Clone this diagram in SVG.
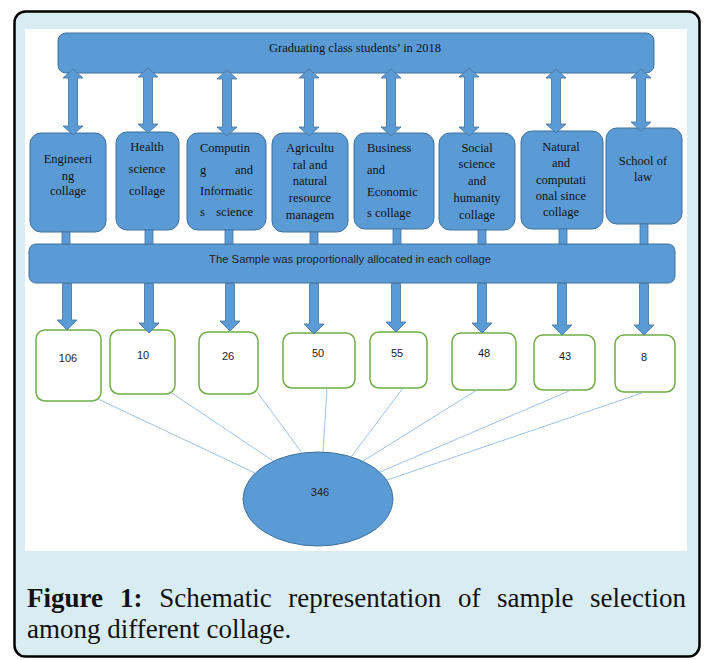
<svg xmlns="http://www.w3.org/2000/svg" width="704" height="660" viewBox="0 0 704 660">
<style>
.blue{fill:#5B9BD5;stroke:#41719C;stroke-width:1}
.num{fill:#FFFFFF;stroke:#70AD47;stroke-width:1.5}
.arr{fill:#5B9BD5;stroke:#41719C;stroke-width:0.8}
.ln{stroke:#9DC3E6;stroke-width:1;fill:none}
.ser{font-family:"Liberation Serif","Times New Roman",serif;font-size:12.5px;fill:#111}
.c{text-anchor:middle}
.sans{font-family:"Liberation Sans",Arial,sans-serif;fill:#222}
.cap{font-family:"Liberation Serif","Times New Roman",serif;font-size:27px;fill:#111}
</style>
<rect x="14.5" y="11.5" width="685" height="645" rx="11" fill="#D9ECF2" stroke="#000" stroke-width="2.5"/>
<rect x="25" y="29" width="662" height="522" fill="#FFFFFF"/>

<g id="top-bar">
<rect class="blue" x="58" y="33" width="596" height="40" rx="8"/>
<text class="ser c" x="355" y="52" font-size="12.5">Graduating class students’ in 2018</text>
</g>

<g id="college-engineering">
<rect class="blue" x="30" y="133" width="76" height="99" rx="11"/>
<text class="ser c" x="68" y="163">Engineeri</text>
<text class="ser c" x="68" y="180">ng</text>
<text class="ser c" x="68" y="195">collage</text>
</g>
<g id="college-health">
<rect class="blue" x="116" y="132" width="63" height="98" rx="11"/>
<text class="ser c" x="147" y="151">Health</text>
<text class="ser c" x="147" y="173">science</text>
<text class="ser c" x="147" y="195">collage</text>
</g>
<g id="college-computing">
<rect class="blue" x="187" y="133" width="79" height="97" rx="11"/>
<text class="ser" x="200" y="152">Computin</text>
<text class="ser" x="200" y="174">g</text>
<text class="ser" x="253" y="174" text-anchor="end">and</text>
<text class="ser" x="200" y="195">Informatic</text>
<text class="ser" x="200" y="216">s</text>
<text class="ser" x="253" y="216" text-anchor="end">science</text>
</g>
<g id="college-agricultural">
<rect class="blue" x="272" y="133" width="76" height="99" rx="11"/>
<text class="ser c" x="310" y="152">Agricultu</text>
<text class="ser c" x="310" y="168.5">ral and</text>
<text class="ser c" x="310" y="185">natural</text>
<text class="ser c" x="310" y="202">resource</text>
<text class="ser c" x="310" y="218.5">managem</text>
</g>
<g id="college-business">
<rect class="blue" x="354" y="133" width="80" height="96" rx="11"/>
<text class="ser" x="367" y="152">Business</text>
<text class="ser" x="367" y="174">and</text>
<text class="ser" x="367" y="196">Economic</text>
<text class="ser" x="367" y="217">s collage</text>
</g>
<g id="college-social">
<rect class="blue" x="439" y="133" width="76" height="97" rx="11"/>
<text class="ser c" x="477" y="152">Social</text>
<text class="ser c" x="477" y="168">science</text>
<text class="ser c" x="477" y="185">and</text>
<text class="ser c" x="477" y="202">humanity</text>
<text class="ser c" x="477" y="219">collage</text>
</g>
<g id="college-natural">
<rect class="blue" x="521" y="131" width="82" height="98" rx="11"/>
<text class="ser c" x="561" y="151">Natural</text>
<text class="ser c" x="561" y="167">and</text>
<text class="ser c" x="561" y="184">computati</text>
<text class="ser c" x="561" y="200">onal since</text>
<text class="ser c" x="561" y="216">collage</text>
</g>
<g id="college-law">
<rect class="blue" x="606" y="128" width="76" height="96" rx="11"/>
<text class="ser c" x="643" y="165">School of</text>
<text class="ser c" x="643" y="181">law</text>
</g>

<g id="allocation-bar">
<rect class="blue" x="29" y="244" width="646" height="39" rx="7"/>
<text class="sans c" x="350" y="263" font-size="11.3">The Sample was proportionally allocated in each collage</text>
</g>

<g id="n-106"><rect class="num" x="36" y="330" width="65" height="71" rx="9"/><text class="sans c" x="68" y="362" font-size="11">106</text></g>
<g id="n-10"><rect class="num" x="110" y="330" width="65" height="64" rx="9"/><text class="sans c" x="143" y="359" font-size="11">10</text></g>
<g id="n-26"><rect class="num" x="199" y="332" width="59" height="62" rx="9"/><text class="sans c" x="228" y="360" font-size="11">26</text></g>
<g id="n-50"><rect class="num" x="283" y="333" width="72" height="55" rx="9"/><text class="sans c" x="318" y="357" font-size="11">50</text></g>
<g id="n-55"><rect class="num" x="370" y="332" width="57" height="56" rx="9"/><text class="sans c" x="397" y="357" font-size="11">55</text></g>
<g id="n-48"><rect class="num" x="452" y="333" width="64" height="57" rx="9"/><text class="sans c" x="484" y="357" font-size="11">48</text></g>
<g id="n-43"><rect class="num" x="534" y="335" width="61" height="55" rx="9"/><text class="sans c" x="565" y="360" font-size="11">43</text></g>
<g id="n-8"><rect class="num" x="615" y="335" width="60" height="57" rx="9"/><text class="sans c" x="644" y="361" font-size="11">8</text></g>

<g id="total">
<ellipse class="blue" cx="318" cy="499" rx="75" ry="47"/>
<text class="sans c" x="320" y="496" font-size="11">346</text>
</g>

<g id="connectors">
<polygon class="arr" points="73,69 83,78 77.5,78 77.5,126 83,126 73,135 63,126 68.5,126 68.5,78 63,78"/>
<polygon class="arr" points="148,68 158,77 152.5,77 152.5,124 158,124 148,133 138,124 143.5,124 143.5,77 138,77"/>
<polygon class="arr" points="227,70 237,79 231.5,79 231.5,127 237,127 227,136 217,127 222.5,127 222.5,79 217,79"/>
<polygon class="arr" points="309,69 319,78 313.5,78 313.5,127 319,127 309,136 299,127 304.5,127 304.5,78 299,78"/>
<polygon class="arr" points="391,69 401,78 395.5,78 395.5,127 401,127 391,136 381,127 386.5,127 386.5,78 381,78"/>
<polygon class="arr" points="469,68 479,77 473.5,77 473.5,127 479,127 469,136 459,127 464.5,127 464.5,77 459,77"/>
<polygon class="arr" points="556,69 566,78 560.5,78 560.5,124 566,124 556,133 546,124 551.5,124 551.5,78 546,78"/>
<polygon class="arr" points="641,69 651,78 645.5,78 645.5,122 651,122 641,131 631,122 636.5,122 636.5,78 631,78"/>
<rect class="arr" x="62" y="232" width="8" height="12"/>
<rect class="arr" x="145" y="230" width="8" height="14"/>
<rect class="arr" x="225" y="230" width="8" height="14"/>
<rect class="arr" x="310" y="232" width="8" height="12"/>
<rect class="arr" x="393" y="229" width="8" height="15"/>
<rect class="arr" x="478" y="230" width="8" height="14"/>
<rect class="arr" x="559" y="229" width="8" height="15"/>
<rect class="arr" x="640" y="224" width="8" height="20"/>
<polygon class="arr" points="62.5,283.5 71.5,283.5 71.5,320 77,320 67,330 57,320 62.5,320"/>
<polygon class="arr" points="144.5,283.5 153.5,283.5 153.5,323 159,323 149,333 139,323 144.5,323"/>
<polygon class="arr" points="225.5,283.5 234.5,283.5 234.5,321 240,321 230,331 220,321 225.5,321"/>
<polygon class="arr" points="309.5,283.5 318.5,283.5 318.5,324 324,324 314,334 304,324 309.5,324"/>
<polygon class="arr" points="391.5,283.5 400.5,283.5 400.5,322 406,322 396,332 386,322 391.5,322"/>
<polygon class="arr" points="477.5,283.5 486.5,283.5 486.5,323 492,323 482,333 472,323 477.5,323"/>
<polygon class="arr" points="557.5,283.5 566.5,283.5 566.5,325 572,325 562,335 552,325 557.5,325"/>
<polygon class="arr" points="639.5,283.5 648.5,283.5 648.5,325 654,325 644,335 634,325 639.5,325"/>
<line class="ln" x1="98" y1="399" x2="255" y2="473"/>
<line class="ln" x1="172" y1="393" x2="273" y2="461"/>
<line class="ln" x1="258" y1="393" x2="302" y2="453"/>
<line class="ln" x1="327" y1="388" x2="323" y2="452"/>
<line class="ln" x1="403" y1="388" x2="351" y2="457"/>
<line class="ln" x1="477" y1="390" x2="363" y2="461"/>
<line class="ln" x1="569" y1="391" x2="380" y2="472"/>
<line class="ln" x1="642" y1="393" x2="387" y2="480"/>
</g>

<text class="cap" y="607"><tspan x="27" font-weight="bold">Figure</tspan><tspan x="120.1" font-weight="bold">1:</tspan><tspan x="159.2">Schematic</tspan><tspan x="288.3">representation</tspan><tspan x="457.9">of</tspan><tspan x="497">sample</tspan></text>
<text class="cap" x="686" y="607" text-anchor="end">selection</text>
<text class="cap" x="27" y="638">among different collage.</text>
</svg>
